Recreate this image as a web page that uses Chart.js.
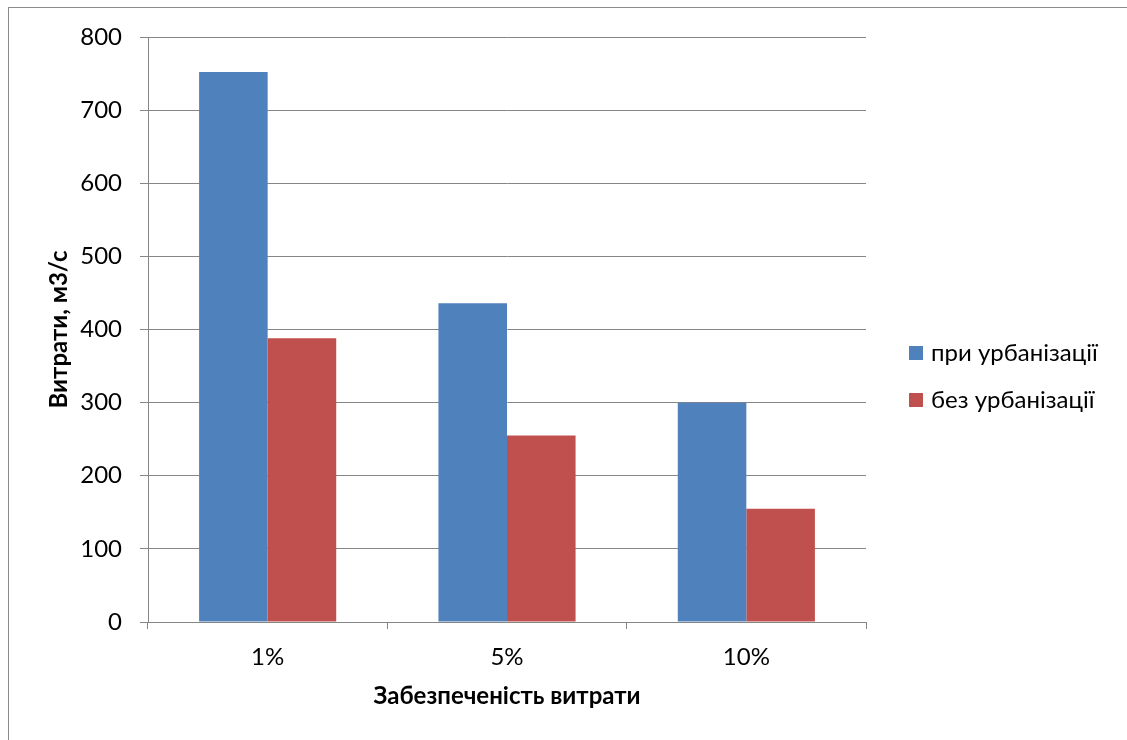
<!DOCTYPE html>
<html>
<head>
<meta charset="utf-8">
<script src="https://cdn.jsdelivr.net/npm/chart.js@4/dist/chart.umd.min.js"></script>
<style>
  html, body { margin: 0; padding: 0; background: #fff; }
  #wrap { width: 1127px; height: 740px; position: relative; }
</style>
</head>
<body>
<div id="wrap"><canvas id="c" width="1127" height="740"></canvas></div>
<script>
// Discharge by exceedance probability, with and without urbanisation
const categories = ['1%', '5%', '10%'];
const withUrban = [752, 436, 300];
const withoutUrban = [388, 255, 155];
const seriesNames = ['при урбанізації', 'без урбанізації'];
const seriesColors = ['#4F81BD', '#C0504D'];
const yTicks = [0, 100, 200, 300, 400, 500, 600, 700, 800];

const FONT = 'Lato, "Open Sans", "DejaVu Sans", sans-serif';
const GRID = '#868686';

// thin outer frame around the chart object
const framePlugin = {
  id: 'frame',
  beforeDraw(chart) {
    const ctx = chart.ctx;
    ctx.save();
    ctx.fillStyle = '#fff';
    ctx.fillRect(0, 0, chart.width, chart.height);
    ctx.strokeStyle = '#8c8c8c';
    ctx.lineWidth = 1;
    ctx.strokeRect(8.5, 7.5, chart.width + 20, chart.height + 20);
    ctx.restore();
  }
};

// legend to the right of the plot: square swatch + series name
const sideLegend = {
  id: 'sideLegend',
  afterDraw(chart) {
    const ctx = chart.ctx;
    const area = chart.chartArea;
    const x0 = area.right + 43;
    const rows = [353, 400];
    ctx.save();
    ctx.font = '24px ' + FONT;
    ctx.textBaseline = 'middle';
    ctx.textAlign = 'left';
    chart.data.datasets.forEach((ds, i) => {
      const y = rows[i];
      ctx.fillStyle = ds.backgroundColor;
      ctx.fillRect(x0, y - 7, 14, 14);
      ctx.fillStyle = '#000';
      ctx.fillText(ds.label, x0 + 22, y);
    });
    ctx.restore();
  }
};

new Chart(document.getElementById('c'), {
  type: 'bar',
  data: {
    labels: categories,
    datasets: [
      { label: seriesNames[0], data: withUrban, backgroundColor: seriesColors[0] },
      { label: seriesNames[1], data: withoutUrban, backgroundColor: seriesColors[1] }
    ]
  },
  options: {
    responsive: false,
    animation: false,
    devicePixelRatio: 1,
    layout: { padding: { left: 30, right: 261, top: 37, bottom: 20 } },
    datasets: { bar: { categoryPercentage: 0.573, barPercentage: 1.0 } },
    plugins: {
      legend: { display: false },
      tooltip: { enabled: false }
    },
    scales: {
      y: {
        min: 0, max: 800,
        afterFit(s) { s.width = 118; },
        afterBuildTicks(s) { s.ticks = yTicks.map(v => ({ value: v })); },
        border: { display: true, color: GRID, width: 1 },
        grid: { color: GRID, lineWidth: 1, tickLength: 8, drawTicks: true },
        ticks: { color: '#000', padding: 18, font: { family: FONT, size: 24 } },
        title: {
          display: true, text: 'Витрати, м3/с', color: '#000',
          font: { family: FONT, size: 24, weight: 'bold' },
          padding: { top: 15, bottom: 0 }
        }
      },
      x: {
        afterFit(s) { s.height = 98; },
        border: { display: true, color: GRID, width: 1 },
        grid: { display: true, drawOnChartArea: false, drawTicks: true, tickLength: 7, offset: true, color: GRID },
        ticks: { color: '#000', padding: 14, font: { family: FONT, size: 24 } },
        title: {
          display: true, text: 'Забезпеченість витрати', color: '#000',
          font: { family: FONT, size: 24, weight: 'bold' },
          padding: { top: 0, bottom: 9 }
        }
      }
    }
  },
  plugins: [framePlugin, sideLegend]
});
</script>
</body>
</html>
